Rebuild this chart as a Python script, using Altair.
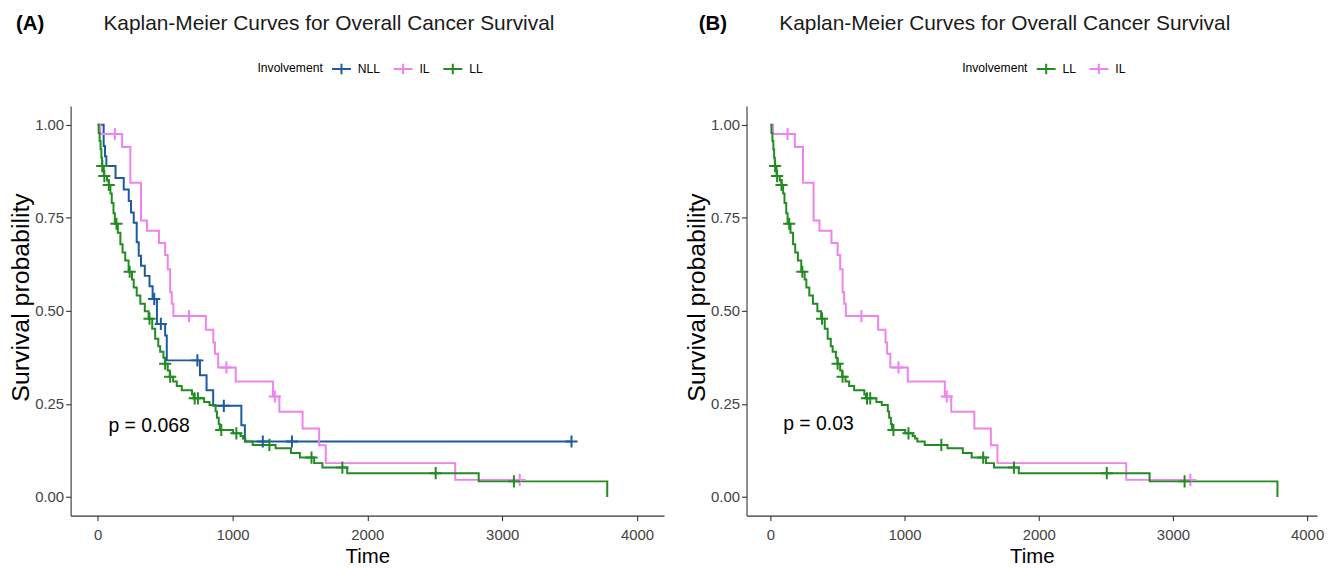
import altair as alt
import pandas as pd

# ---------------- data ----------------
LL_time = [0, 8, 15, 22, 28, 33, 46, 70, 83, 95, 105, 118, 128, 150, 169, 185, 205, 230,
           255, 268, 290, 317, 350, 378, 405, 427, 450, 464, 488, 500, 520, 535, 560, 587,
           624, 700, 712, 790, 830, 875, 885, 898, 906, 1005, 1060, 1078, 1095, 1150, 1320,
           1434, 1500, 1606, 1667, 1851, 2826, 3779]
LL_surv = [1.0, 0.978, 0.956, 0.934, 0.911, 0.889, 0.862, 0.85, 0.838, 0.815, 0.79, 0.762,
           0.734, 0.71, 0.679, 0.657, 0.635, 0.605, 0.584, 0.563, 0.541, 0.519, 0.499, 0.479,
           0.452, 0.425, 0.405, 0.39, 0.374, 0.358, 0.34, 0.323, 0.31, 0.298, 0.287, 0.276,
           0.265, 0.255, 0.247, 0.23, 0.213, 0.196, 0.18, 0.171, 0.164, 0.157, 0.149, 0.14,
           0.131, 0.118, 0.106, 0.091, 0.079, 0.064, 0.042, 0.0]
LL_cens_time = [35, 50, 83, 140, 238, 385, 501, 538, 720, 744, 917, 1029, 1274, 1586, 1815, 2507, 3087]
LL_cens_surv = [0.889, 0.862, 0.838, 0.734, 0.605, 0.479, 0.358, 0.323, 0.265, 0.265, 0.18,
                0.171, 0.14, 0.106, 0.079, 0.064, 0.042]

IL_time = [0, 20, 182, 243, 322, 366, 455, 501, 520, 538, 550, 562, 803, 858, 870, 894, 1024,
           1300, 1348, 1520, 1643, 1692, 2652, 3130]
IL_surv = [1.0, 0.975, 0.94, 0.844, 0.743, 0.715, 0.682, 0.65, 0.612, 0.55, 0.519, 0.486,
           0.449, 0.415, 0.385, 0.348, 0.31, 0.27, 0.229, 0.184, 0.139, 0.091, 0.046, 0.046]
IL_cens_time = [128, 678, 955, 1314, 3130]
IL_cens_surv = [0.975, 0.486, 0.348, 0.27, 0.046]

NLL_time = [0, 45, 55, 65, 133, 194, 231, 248, 268, 290, 305, 322, 350, 385, 408, 440, 501,
            513, 759, 808, 857, 1066, 1092, 3514]
NLL_surv = [1.0, 0.943, 0.915, 0.889, 0.857, 0.826, 0.795, 0.764, 0.737, 0.684, 0.648, 0.621,
            0.594, 0.566, 0.532, 0.465, 0.434, 0.367, 0.327, 0.287, 0.245, 0.193, 0.149, 0.149]
NLL_cens_time = [420, 469, 740, 936, 1225, 1441, 3514]
NLL_cens_surv = [0.532, 0.465, 0.367, 0.245, 0.149, 0.149, 0.149]

X_TICKS = [0, 1000, 2000, 3000, 4000]
Y_TICKS = [0.0, 0.25, 0.5, 0.75, 1.0]

TITLE = "Kaplan-Meier Curves for Overall Cancer Survival"
COLORS = {"NLL": "#1D5A9E", "IL": "#EE82EE", "LL": "#228B22"}

CURVES = {"NLL": (NLL_time, NLL_surv), "IL": (IL_time, IL_surv), "LL": (LL_time, LL_surv)}
CENSORS = {"NLL": (NLL_cens_time, NLL_cens_surv), "IL": (IL_cens_time, IL_cens_surv),
           "LL": (LL_cens_time, LL_cens_surv)}

FONT = "'Liberation Sans', Arial, sans-serif"
PLUS = "M-1,0H1M0,-1V1"
LEG_SYM = "M-1,0H1M0,-0.55V0.55"
PLOT_H = 412


def frame(source, groups):
    rows = []
    for g in groups:
        ts, ss = source[g]
        for t, s in zip(ts, ss):
            rows.append({"group": g, "time": t, "surv": s})
    return pd.DataFrame(rows)


def panel(tag, groups, pval, pval_t, pval_s, width, xdom, legend_x, tag_x):
    cscale = alt.Scale(domain=groups, range=[COLORS[g] for g in groups])
    xenc = alt.X("time:Q", scale=alt.Scale(domain=xdom, nice=False, zero=False),
                 axis=alt.Axis(values=X_TICKS, format="d", title="Time"))
    yenc = alt.Y("surv:Q", scale=alt.Scale(domain=[-0.05, 1.05], nice=False, zero=False),
                 axis=alt.Axis(values=Y_TICKS, format=".2f", title="Survival probability",
                               titleY=PLOT_H / 2 - 14))
    order = [g for g in ["NLL", "IL", "LL"] if g in groups]
    lines = alt.Chart(frame(CURVES, order)).mark_line(
        interpolate="step-after", strokeWidth=2).encode(
        x=xenc, y=yenc,
        color=alt.Color("group:N", scale=cscale, legend=alt.Legend(
            title="Involvement", orient="none", legendX=legend_x, legendY=-48,
            direction="horizontal", titleOrient="left", symbolType=LEG_SYM,
            symbolSize=361, symbolStrokeWidth=2, labelFont=FONT, titleFont=FONT,
            labelFontSize=12.2, titleFontSize=12.2, titleFontWeight="normal",
            labelColor="black", titleColor="black", labelOffset=6, columnPadding=9,
            titlePadding=8, titleBaseline="middle")))
    cens = alt.Chart(frame(CENSORS, order)).mark_point(
        shape=PLUS, filled=False, size=150, strokeWidth=2, opacity=1).encode(
        x="time:Q", y="surv:Q", color=alt.Color("group:N", scale=cscale, legend=None))
    pv = alt.Chart(pd.DataFrame({"time": [pval_t], "surv": [pval_s], "label": [pval]})).mark_text(
        align="left", baseline="middle", font=FONT, fontSize=19.5, color="black").encode(
        x="time:Q", y="surv:Q", text="label:N")
    tg = alt.Chart(pd.DataFrame({"label": [tag]})).mark_text(
        align="left", baseline="middle", font=FONT, fontSize=20.5, fontWeight="bold",
        color="black").encode(x=alt.value(tag_x), y=alt.value(-83), text="label:N")
    tt = alt.Chart(pd.DataFrame({"label": [TITLE]})).mark_text(
        align="left", baseline="middle", font=FONT, fontSize=21, color="#1a1a1a").encode(
        x=alt.value(33), y=alt.value(-83), text="label:N")
    return alt.layer(lines, cens, pv, tg, tt).properties(width=width, height=PLOT_H)


A = panel("(A)", ["NLL", "IL", "LL"], "p = 0.068", 80, 0.19, 597, [-200, 4200], 188, -55)
B = panel("(B)", ["LL", "IL"], "p = 0.03", 95, 0.195, 574, [-178, 4074], 217, -48)

chart = alt.hconcat(A, B, spacing=20).resolve_scale(
    color="independent", x="independent", y="independent").resolve_legend(
    color="independent").properties(
    padding={"left": 0, "top": 3, "right": 0, "bottom": 0}).configure_view(
    stroke=None).configure_axis(
    grid=False, domainColor="#333333", domainWidth=1.1, tickColor="#333333", tickWidth=1.1,
    tickSize=5, labelFont=FONT, labelFontSize=15, labelColor="#444444", labelPadding=2,
    titleFont=FONT, titleFontSize=20.5, titleFontWeight="normal", titleColor="black").configure_axisX(
    labelPadding=7, titlePadding=4).configure_axisY(titleFontSize=25, titlePadding=1)

chart.save("out.html", embed_options={"renderer": "svg", "actions": False})
